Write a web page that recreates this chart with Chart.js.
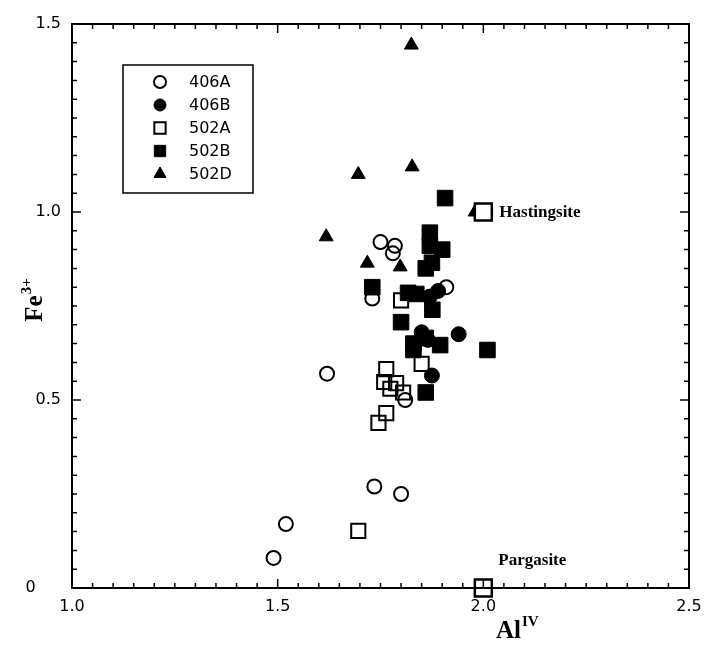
<!DOCTYPE html>
<html>
<head>
<meta charset="utf-8">
<script src="https://cdn.jsdelivr.net/npm/chart.js@4.4.0/dist/chart.umd.min.js"></script>
<style>
  html, body { margin: 0; padding: 0; background: #fff; }
  canvas { display: block; }
</style>
</head>
<body>
<canvas id="chart" width="705" height="649"></canvas>
<script>
// Dados (Al IV vs Fe3+)
const xTicks = [1.0, 1.5, 2.0, 2.5];
const yTicks = [0, 0.5, 1.0, 1.5];

const a406_x = [1.49, 1.52, 1.62, 1.735, 1.80, 1.81, 1.75, 1.785, 1.78, 1.73, 1.91];
const a406_y = [0.08, 0.17, 0.57, 0.27, 0.25, 0.50, 0.92, 0.91, 0.89, 0.77, 0.80];

const b406_x = [1.94, 1.875, 1.89, 1.87, 1.85, 1.865];
const b406_y = [0.675, 0.565, 0.79, 0.775, 0.68, 0.66];

const a502_x = [1.696, 1.764, 1.759, 1.788, 1.774, 1.805, 1.764, 1.745, 1.85, 1.80];
const a502_y = [0.152, 0.582, 0.548, 0.545, 0.53, 0.52, 0.465, 0.439, 0.596, 0.765];

const b502_x = [1.907, 1.87, 1.87, 1.90, 1.86, 1.875, 1.73, 1.817, 1.837, 1.876, 1.80, 1.83, 1.86, 1.895, 1.83, 2.01, 1.86];
const b502_y = [1.037, 0.945, 0.91, 0.90, 0.85, 0.865, 0.80, 0.785, 0.782, 0.74, 0.707, 0.65, 0.665, 0.646, 0.633, 0.633, 0.52];

const d502_x = [1.825, 1.827, 1.696, 1.618, 1.718, 1.798, 1.98];
const d502_y = [1.444, 1.12, 1.10, 0.934, 0.864, 0.854, 1.0];

const endNames = ['Hastingsite', 'Pargasite'];
const end_x = [2.0, 2.0];
const end_y = [1.0, 0.0];

const pts = (xs, ys) => xs.map((x, i) => ({ x: x, y: ys[i] }));

// Legenda desenhada dentro do gráfico
const legendItems = [
    { label: '406A', style: 'circle', fill: false },
    { label: '406B', style: 'circle', fill: true },
    { label: '502A', style: 'rect', fill: false },
    { label: '502B', style: 'rect', fill: true },
    { label: '502D', style: 'triangle', fill: true }
];

function marker(ctx, style, fill, x, y, r) {
    ctx.save();
    ctx.fillStyle = fill ? '#000' : 'rgba(0,0,0,0)';
    ctx.strokeStyle = '#000';
    ctx.lineWidth = fill ? 1 : 2;
    Chart.helpers.drawPoint(ctx, {
        pointStyle: style, radius: r, rotation: 0, borderWidth: ctx.lineWidth
    }, x, y);
    ctx.restore();
}

const framePlugin = {
    id: 'frame',
    afterDatasetsDraw(chart) {
        const ctx = chart.ctx;
        const a = chart.chartArea;
        const xs = chart.scales.x, ys = chart.scales.y;
        ctx.save();
        ctx.strokeStyle = '#000';
        ctx.lineWidth = 2;
        ctx.strokeRect(a.left, a.top, a.right - a.left, a.bottom - a.top);
        ctx.lineWidth = 1.5;
        ctx.beginPath();
        for (let i = 0; i <= 30; i++) {
            const p = ys.getPixelForValue(i * 0.05);
            const len = i % 10 === 0 ? 9 : 5;
            ctx.moveTo(a.left, p); ctx.lineTo(a.left + len, p);
            ctx.moveTo(a.right, p); ctx.lineTo(a.right - len, p);
        }
        for (let i = 0; i <= 30; i++) {
            const p = xs.getPixelForValue(1 + i * 0.05);
            const len = i % 10 === 0 ? 9 : 5;
            ctx.moveTo(p, a.bottom); ctx.lineTo(p, a.bottom - len);
            ctx.moveTo(p, a.top); ctx.lineTo(p, a.top + len);
        }
        ctx.stroke();

        // legenda
        ctx.lineWidth = 1.5;
        ctx.strokeRect(123, 65, 130, 128);
        ctx.font = '16px "DejaVu Sans"';
        ctx.textBaseline = 'middle';
        ctx.textAlign = 'left';
        legendItems.forEach((it, i) => {
            const y = 82 + i * 23;
            const r = it.style === 'circle' ? 6 : (it.style === 'rect' ? 8 : 7);
            marker(ctx, it.style, it.fill, 160, y, r);
            ctx.fillStyle = '#000';
            ctx.fillText(it.label, 189, y + 1);
        });

        // rótulos dos membros finais
        ctx.font = 'bold 17px "Liberation Serif"';
        ctx.fillText(endNames[0], xs.getPixelForValue(end_x[0]) + 16, ys.getPixelForValue(end_y[0]) + 1);
        ctx.fillText(endNames[1], xs.getPixelForValue(end_x[1]) + 15, ys.getPixelForValue(end_y[1]) - 27);

        // títulos dos eixos
        ctx.textBaseline = 'alphabetic';
        ctx.font = 'bold 25px "Liberation Serif"';
        const alW = ctx.measureText('Al').width;
        ctx.fillText('Al', 496, 638);
        ctx.font = 'bold 15px "Liberation Serif"';
        ctx.fillText('IV', 496 + alW + 1, 626);

        ctx.translate(42, 300);
        ctx.rotate(-Math.PI / 2);
        ctx.font = 'bold 15px "Liberation Serif"';
        const supW = ctx.measureText('3+').width;
        ctx.font = 'bold 25px "Liberation Serif"';
        const feW = ctx.measureText('Fe').width;
        const start = -(feW + supW + 1) / 2;
        ctx.fillText('Fe', start, 0);
        ctx.font = 'bold 15px "Liberation Serif"';
        ctx.fillText('3+', start + feW + 1, -11);
        ctx.restore();
    }
};

new Chart(document.getElementById('chart'), {
    type: 'scatter',
    data: {
        datasets: [
            {
                label: 'endmembers',
                data: pts(end_x, end_y),
                pointStyle: 'rect', pointRadius: 12, pointHoverRadius: 12,
                borderColor: '#000', backgroundColor: '#fff', borderWidth: 2.5,
                clip: false
            },
            {
                label: '406A',
                data: pts(a406_x, a406_y),
                pointStyle: 'circle', pointRadius: 7, pointHoverRadius: 7,
                borderColor: '#000', backgroundColor: 'rgba(0,0,0,0)', borderWidth: 2
            },
            {
                label: '406B',
                data: pts(b406_x, b406_y),
                pointStyle: 'circle', pointRadius: 7.5, pointHoverRadius: 7.5,
                borderColor: '#000', backgroundColor: '#000', borderWidth: 1
            },
            {
                label: '502A',
                data: pts(a502_x, a502_y),
                pointStyle: 'rect', pointRadius: 10, pointHoverRadius: 10,
                borderColor: '#000', backgroundColor: 'rgba(0,0,0,0)', borderWidth: 2
            },
            {
                label: '502B',
                data: pts(b502_x, b502_y),
                pointStyle: 'rect', pointRadius: 11, pointHoverRadius: 11,
                borderColor: '#000', backgroundColor: '#000', borderWidth: 1
            },
            {
                label: '502D',
                data: pts(d502_x, d502_y),
                pointStyle: 'triangle', pointRadius: 8, pointHoverRadius: 8,
                borderColor: '#000', backgroundColor: '#000', borderWidth: 1
            }
        ]
    },
    options: {
        responsive: false,
        animation: false,
        layout: { padding: { top: 24, right: 16, left: 0, bottom: 0 } },
        plugins: {
            legend: { display: false },
            tooltip: { enabled: false }
        },
        scales: {
            x: {
                type: 'linear',
                min: 1.0, max: 2.5,
                afterFit: (s) => { s.height = 61; s.paddingLeft = 0; s.paddingRight = 0; },
                afterBuildTicks: (s) => { s.ticks = xTicks.map(v => ({ value: v })); },
                grid: { display: false, drawTicks: false },
                border: { display: false },
                ticks: {
                    padding: 9,
                    color: '#000',
                    font: { family: 'DejaVu Sans', size: 16 },
                    callback: (v) => v.toFixed(1)
                }
            },
            y: {
                type: 'linear',
                min: 0, max: 1.5,
                afterFit: (s) => { s.width = 72; s.paddingTop = 0; s.paddingBottom = 0; },
                afterBuildTicks: (s) => { s.ticks = yTicks.map(v => ({ value: v })); },
                grid: { display: false, drawTicks: false },
                border: { display: false },
                ticks: {
                    padding: 11,
                    color: '#000',
                    font: { family: 'DejaVu Sans', size: 16 },
                    callback: (v) => v === 0 ? '0\u2007\u2007 ' : v.toFixed(1)
                }
            }
        }
    },
    plugins: [framePlugin]
});
</script>
</body>
</html>
